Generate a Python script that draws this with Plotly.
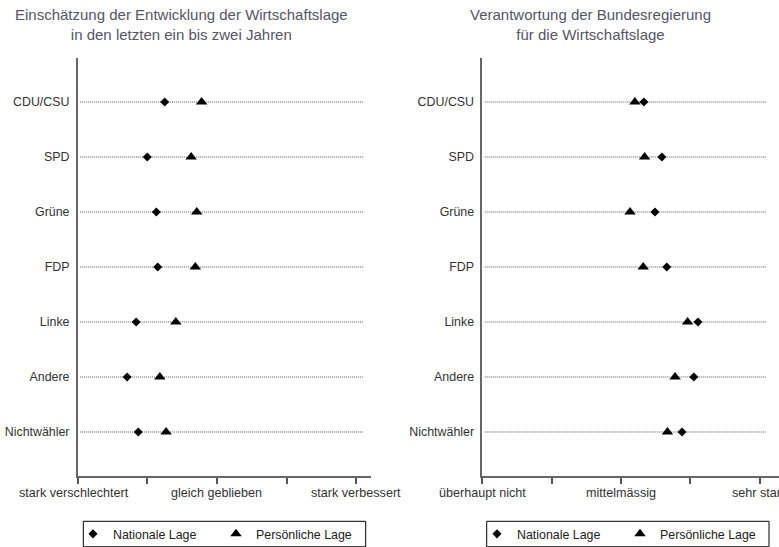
import plotly.graph_objects as go

categories = ["CDU/CSU", "SPD", "Grüne", "FDP", "Linke", "Andere", "Nichtwähler"]

# Left panel: Einschätzung der Entwicklung der Wirtschaftslage (1..5)
left_national = [2.25, 2.00, 2.13, 2.15, 1.84, 1.71, 1.87]
left_personal = [2.78, 2.63, 2.71, 2.69, 2.41, 2.18, 2.27]

# Right panel: Verantwortung der Bundesregierung (1..5)
right_national = [3.33, 3.59, 3.49, 3.66, 4.11, 4.05, 3.88]
right_personal = [3.20, 3.34, 3.13, 3.32, 3.96, 3.78, 3.67]

left_ticks = ["stark verschlechtert", "", "gleich geblieben", "", "stark verbessert"]
right_ticks = ["überhaupt nicht", "", "mittelmässig", "", "sehr stark"]
tick_vals = [1, 2, 3, 4, 5]

left_title = "Einschätzung der Entwicklung der Wirtschaftslage<br>in den letzten ein bis zwei Jahren"
right_title = "Verantwortung der Bundesregierung<br>für die Wirtschaftslage"

W, H = 779, 547
top, bottom = 57.7, 475.7
FONT = "Liberation Sans, Arial, sans-serif"
PH = bottom - top


def py(p):  # screen pixel y -> paper y
    return (bottom - p) / PH


def px(p):  # screen pixel x -> paper x
    return p / W


fig = go.Figure()

# dotted guide lines
for xa, ya in [("x", "y"), ("x2", "y2")]:
    xs, ys = [], []
    for c in categories:
        xs += [1.035, 5.1, None]
        ys += [c, c, None]
    fig.add_trace(go.Scatter(x=xs, y=ys, mode="lines", xaxis=xa, yaxis=ya,
                             line=dict(color="#555555", width=1, dash="1px,1px"),
                             showlegend=False, hoverinfo="skip"))


def add_markers(nat, per, xa, ya, leg):
    fig.add_trace(go.Scatter(x=nat, y=categories, mode="markers", name="Nationale Lage",
                             xaxis=xa, yaxis=ya, legend=leg,
                             marker=dict(symbol="diamond", size=7, color="black")))
    fig.add_trace(go.Scatter(x=per, y=categories, mode="markers", name="Persönliche Lage",
                             xaxis=xa, yaxis=ya, legend=leg,
                             marker=dict(symbol="triangle-up", size=10, color="black")))


add_markers(left_national, left_personal, "x", "y", "legend")
add_markers(right_national, right_personal, "x2", "y2", "legend2")

axis_common = dict(showline=True, linecolor="#666666", linewidth=1.5, showgrid=False,
                   zeroline=False, ticks="outside", ticklen=6, tickwidth=1.5,
                   tickcolor="#555555", showticklabels=False,
                   tickvals=tick_vals, automargin=False)
yaxis_common = dict(showline=True, linecolor="#666666", linewidth=1.5, showgrid=False,
                    zeroline=False, ticks="", type="category", categoryorder="array",
                    categoryarray=categories, range=[6.8, -0.8],
                    tickfont=dict(size=12.4, color="#333333", family=FONT),
                    ticklabelstandoff=4, automargin=False)

lx0, lx1 = 77.7, 371.0
rx0 = 482.3
l_span = (lx1 - lx0) / 69.6
r_span = (W - rx0) / 69.35

legend_common = dict(orientation="h", xanchor="left", yanchor="top", y=py(519),
                     borderwidth=0, bgcolor="rgba(0,0,0,0)",
                     font=dict(size=12.4, color="#222222", family=FONT),
                     entrywidth=98, entrywidthmode="pixels", itemclick=False)

box_y0, box_y1 = py(546.5), py(521)

annotations = [
    dict(text=left_title, x=px(181), y=py(24), xref="paper", yref="paper",
         xanchor="center", yanchor="middle", showarrow=False,
         font=dict(size=15, color="#555566", family=FONT)),
    dict(text=right_title, x=px(590), y=py(24), xref="paper", yref="paper",
         xanchor="center", yanchor="middle", showarrow=False,
         font=dict(size=15, color="#555566", family=FONT)),
]
# x-axis tick labels, placed at the axis' own tick values
for xr, labels in [("x", left_ticks), ("x2", right_ticks)]:
    for v, t in zip(tick_vals, labels):
        if not t:
            continue
        ann = dict(text=t, x=v, xref=xr, y=py(493), yref="paper",
                   xanchor="center", yanchor="middle", showarrow=False,
                   font=dict(size=12.6, color="#333333", family=FONT))
        if xr == "x" and v == 1:
            # anchor by right edge, just left of the second tick
            ann.update(x=2, xanchor="right", xshift=-16)
        annotations.append(ann)

fig.update_layout(
    width=W, height=H,
    margin=dict(l=0, r=0, t=top, b=H - bottom, pad=0, autoexpand=False),
    paper_bgcolor="white", plot_bgcolor="white",
    xaxis=dict(domain=[px(lx0), px(lx1)], range=[1, 1 + l_span], anchor="y", **axis_common),
    yaxis=dict(anchor="x", **yaxis_common),
    xaxis2=dict(domain=[px(rx0), 1.0], range=[1, 1 + r_span], anchor="y2", **axis_common),
    yaxis2=dict(anchor="x2", **yaxis_common),
    legend=dict(x=px(73), **legend_common),
    legend2=dict(x=px(477), **legend_common),
    shapes=[
        dict(type="rect", xref="paper", yref="paper", x0=px(83.3), x1=px(365.7),
             y0=box_y0, y1=box_y1, line=dict(color="black", width=1)),
        dict(type="rect", xref="paper", yref="paper", x0=px(486.7), x1=px(769),
             y0=box_y0, y1=box_y1, line=dict(color="black", width=1)),
    ],
    annotations=annotations,
    showlegend=True,
)

fig.write_html("out.html", config={"displayModeBar": False},
               post_script="document.body.style.margin='0';document.body.style.overflow='hidden';")
